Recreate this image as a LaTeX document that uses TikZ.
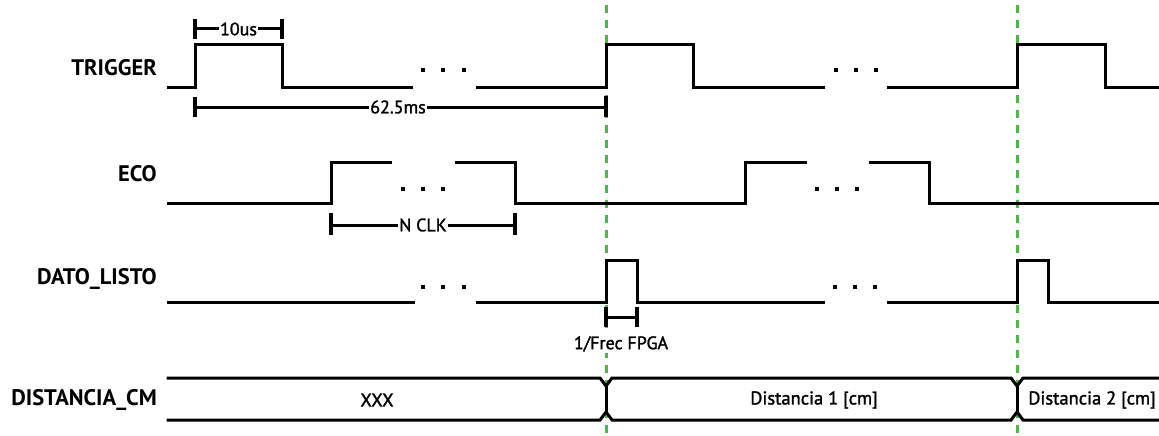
\documentclass[tikz,border=0pt]{standalone}
\usepackage{fontspec}
\setmainfont{PT Sans}
\newfontfamily\medfont{PT Sans}[FakeBold=1.6]
\definecolor{guidegreen}{RGB}{76,184,72}
\begin{document}
\begin{tikzpicture}[x=1pt,y=-1pt,
  sig/.style={line width=3pt, line join=miter, line cap=rect},
  dimline/.style={line width=3pt},
  tickline/.style={line width=3.2pt},
  dimtxt/.style={fill=white, inner sep=1.5pt, font=\fontsize{18}{18}\selectfont\medfont},
  siglabel/.style={anchor=east, inner sep=0pt, font=\fontsize{22.5}{22.5}\selectfont\bfseries},
  buslabel/.style={inner sep=0pt, font=\fontsize{18.5}{18.5}\selectfont\medfont},
  guide/.style={guidegreen, line width=3pt, dash pattern=on 8pt off 7pt},
  dotsq/.style={fill=black, minimum size=4pt, inner sep=0pt, draw=none, rectangle}]
\useasboundingbox (0,0) rectangle (1159,436);
% guides
\coordinate (g1t) at (606,5); \coordinate (g1b) at (606,436);
\coordinate (g2t) at (1017,5); \coordinate (g2b) at (1017,436);
\draw[guide] (g1t) -- (g1b);
\draw[guide] (g2t) -- (g2b);
% labels
\node[siglabel] (lt) at (157,68) {TRIGGER};
\node[siglabel] (le) at (157,174) {ECO};
\node[siglabel] (ld) at (157,279) {DATO\_LISTO};
\node[siglabel] (lc) at (157,400) {DISTANCIA\_CM};
% TRIGGER
\draw[sig] (168,87.5) -- (195,87.5) -- (195,45) -- (282,45) -- (282,87.5) -- (411,87.5);
\draw[sig] (477,87.5) -- (606,87.5) -- (606,45) -- (693,45) -- (693,87.5) -- (823,87.5);
\draw[sig] (888,87.5) -- (1017,87.5) -- (1017,45) -- (1105,45) -- (1105,87.5) -- (1159,87.5);
\foreach \x [count=\i] in {423,443,464,836,856,876} \node[dotsq] (td\i) at (\x,70) {};
% ECO
\draw[sig] (168,203) -- (331,203) -- (331,162) -- (390,162);
\draw[sig] (456,162) -- (515,162) -- (515,203) -- (745,203) -- (745,162) -- (805,162);
\draw[sig] (870,162) -- (929,162) -- (929,203) -- (1159,203);
\foreach \x [count=\i] in {403,423,443,817,837,857} \node[dotsq] (ed\i) at (\x,189) {};
% DATO_LISTO
\draw[sig] (168,302) -- (413,302);
\draw[sig] (477,302) -- (606,302) -- (606,260) -- (637,260) -- (637,302) -- (823,302);
\draw[sig] (888,302) -- (1017,302) -- (1017,260) -- (1048,260) -- (1048,302) -- (1159,302);
\foreach \x [count=\i] in {423,443,464,835,855,875} \node[dotsq] (dd\i) at (\x,287) {};
% DISTANCIA_CM bus
\draw[sig] (168,378) -- (600,378) -- (606,386) -- (612,378) -- (1011,378) -- (1017,386) -- (1023,378) -- (1159,378);
\draw[sig] (168,420) -- (600,420) -- (606,412) -- (612,420) -- (1011,420) -- (1017,412) -- (1023,420) -- (1159,420);
\draw[sig] (606,386) -- (606,412);
\draw[sig] (1017,386) -- (1017,412);
\node[buslabel] (b0) at (377,400) {XXX};
\node[buslabel] (b1) at (814,400) {Distancia 1 [cm]};
\node[buslabel] (b2) at (1092,400) {Distancia 2 [cm]};
% dimension 10us
\coordinate (a1) at (195,29); \coordinate (a2) at (282,29);
\draw[dimline] (a1) -- (a2);
\draw[tickline] (195,19) -- (195,39); \draw[tickline] (282,19) -- (282,39);
\node[dimtxt] (t10) at (238.5,29) {10us};
% dimension 62.5ms
\coordinate (p1) at (195,107); \coordinate (p2) at (606,107);
\draw[dimline] (p1) -- (p2);
\draw[tickline] (195,97) -- (195,117); \draw[tickline] (606,96) -- (606,117);
\node[dimtxt] (t62) at (398,107) {62.5ms};
% dimension N CLK
\coordinate (n1) at (331,225); \coordinate (n2) at (515,225);
\draw[dimline] (n1) -- (n2);
\draw[tickline] (331,213) -- (331,235); \draw[tickline] (515,213) -- (515,235);
\node[dimtxt] (tn) at (423,225) {N CLK};
% dimension 1/Frec FPGA
\coordinate (f1) at (606,317); \coordinate (f2) at (637,317);
\draw[dimline] (f1) -- (f2);
\draw[tickline] (606,307) -- (606,327); \draw[tickline] (637,307) -- (637,327);
\node[dimtxt] (tf) at (621,344) {1/Frec FPGA};
\end{tikzpicture}
\end{document}
